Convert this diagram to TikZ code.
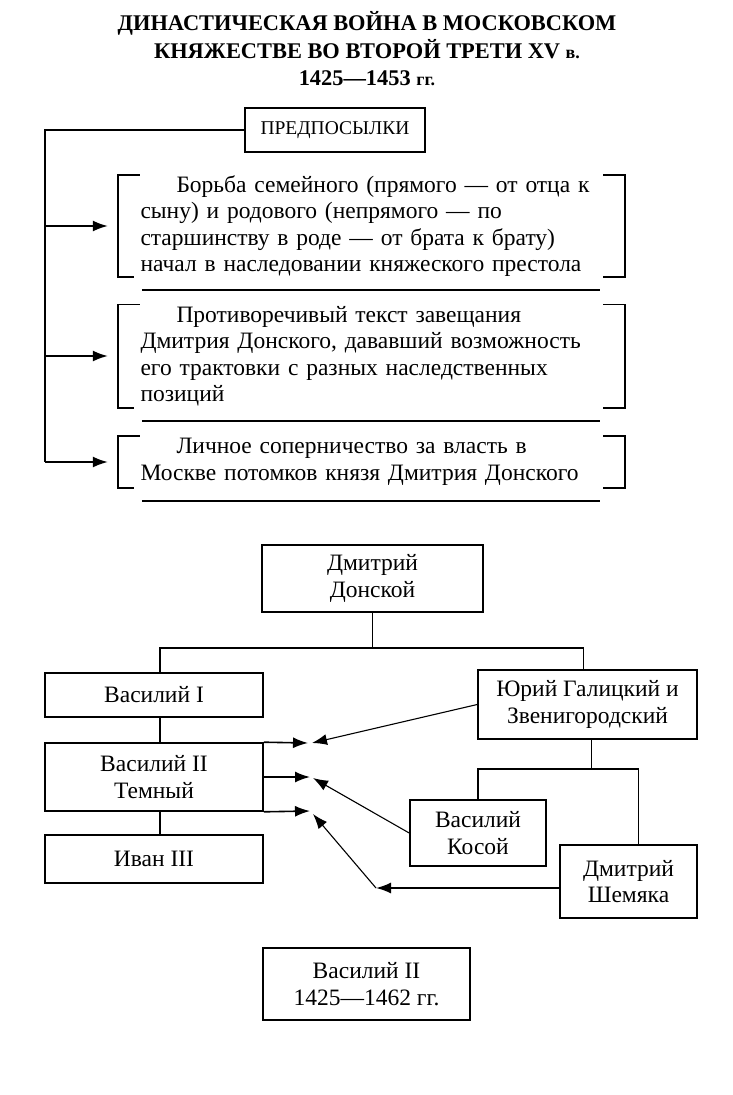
\documentclass[tikz,border=0pt]{standalone}
\usepackage{fontspec}
\setmainfont{Liberation Serif}
\usetikzlibrary{arrows.meta}
\begin{document}
\begin{tikzpicture}[x=1pt, y=-1pt, font=\fontsize{23.5}{26.5}\selectfont,
    box/.style={draw, line width=1.6pt, align=center, inner sep=0pt},
    txt/.style={align=left, inner sep=0pt, minimum width=507pt, text width=462pt},
    brk/.style={line width=1.6pt},
    lnk/.style={line width=1.6pt},
    arr/.style={line width=1.1pt, -{Latex[length=15pt, width=11pt]}}]
      \useasboundingbox (0,0) rectangle (732,1095);
      \node[font=\bfseries\fontsize{22.4}{27.5}\selectfont, align=center] (title) at (367,49) {ДИНАСТИЧЕСКАЯ ВОЙНА В МОСКОВСКОМ\\КНЯЖЕСТВЕ ВО ВТОРОЙ ТРЕТИ XV {\fontsize{18}{18}\selectfont в.}\\1425---1453 {\fontsize{18}{18}\selectfont гг.}};
      \node[box, font=\fontsize{19.5}{24}\selectfont, minimum width=180pt, minimum height=44pt] (pre) at (335,130) {ПРЕДПОСЫЛКИ};
      \node[txt, minimum height=98pt] (p1) at (371.5,226) {\hspace*{36pt}Борьба семейного (прямого --- от отца к\\сыну) и родового (непрямого --- по\\старшинству в роде --- от брата к брату)\\начал в наследовании княжеского престола};
      \node[txt, minimum height=103pt] (p2) at (371.5,356) {\hspace*{36pt}Противоречивый текст завещания\\Дмитрия Донского, дававший возможность\\его трактовки с разных наследственных\\позиций};
      \node[txt, minimum height=52pt] (p3) at (371.5,462) {\hspace*{36pt}Личное соперничество за власть в\\Москве потомков князя Дмитрия Донского};
      \foreach \p in {p1,p2,p3}{
        \draw[brk] ([xshift=22]\p.north west) -- (\p.north west) -- (\p.south west) -- ([xshift=16]\p.south west);
        \draw[brk] ([xshift=-22]\p.north east) -- (\p.north east) -- (\p.south east) -- ([xshift=-22]\p.south east);
        \draw[brk] ([shift={(24,13)}]\p.south west) -- ([shift={(-25,13)}]\p.south east);
      }
      \coordinate (sp) at (45,0);
      \draw[lnk] (pre.west) -| (p3.west -| sp);
      \foreach \p in {p1,p2,p3}
        \draw[arr, line width=1.6pt] (\p.west -| sp) -- ([xshift=-10]\p.west);
      \node[box, minimum width=221pt, minimum height=67pt] (dd) at (372.5,578.5) {Дмитрий\\Донской};
      \node[box, minimum width=218pt, minimum height=44pt] (v1) at (154,695) {Василий I};
      \node[box, minimum width=219pt, minimum height=69pt] (yg) at (587.5,704.5) {Юрий Галицкий и\\Звенигородский};
      \node[box, minimum width=218pt, minimum height=68pt] (v2) at (154,777) {Василий II\\Темный};
      \node[box, minimum width=218pt, minimum height=48pt] (iv) at (154,859) {Иван III};
      \node[box, minimum width=136pt, minimum height=66pt] (vk) at (478,833) {Василий\\Косой};
      \node[box, minimum width=137pt, minimum height=73pt] (ds) at (628.5,881.5) {Дмитрий\\Шемяка};
      \node[box, minimum width=207pt, minimum height=72pt] (vt) at (366.5,984) {Василий II\\1425---1462 гг.};
      \draw[lnk] (dd.south) -- ++(0,35) coordinate (j1);
      \draw[lnk] ([xshift=6]v1.north) |- (j1) -| ([xshift=-4]yg.north);
      \draw[lnk] ([xshift=6]v1.south) -- ([xshift=6]v2.north);
      \draw[lnk] ([xshift=6]v2.south) -- ([xshift=6]iv.north);
      \draw[lnk] ([xshift=4]yg.south) -- ++(0,29) coordinate (j2);
      \draw[lnk] (vk.north) |- (j2) -| ([xshift=10]ds.north);
      \coordinate (t1) at (308,743);
      \coordinate (t2) at (310,777);
      \coordinate (t3) at (310,811);
      \coordinate (u1) at (312,743);
      \coordinate (u2) at (313,778);
      \coordinate (u3) at (313,814);
      \coordinate (k1) at (376,888);
      \draw[arr, line width=1.6pt] (v2.north east) -- (t1);
      \draw[arr, line width=1.6pt] (v2.east) -- (t2);
      \draw[arr, line width=1.6pt] (v2.south east) -- (t3);
      \draw[arr] (yg.west) -- (u1);
      \draw[arr] (vk.west) -- (u2);
      \draw[arr, line width=1.6pt] (ds.west |- k1) -- (k1);
      \draw[arr] (k1) -- (u3);
    \end{tikzpicture}
\end{document}
